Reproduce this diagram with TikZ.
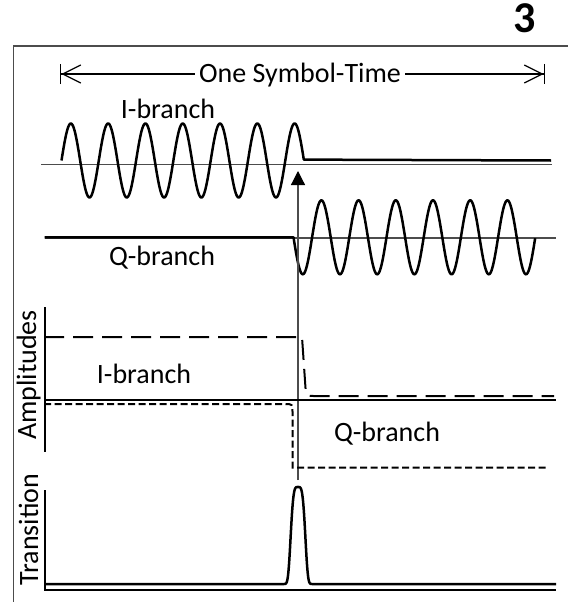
\documentclass[tikz,border=0pt]{standalone}
\usepackage{fontspec}
\setmainfont{Carlito}
\usetikzlibrary{arrows.meta}
\tikzset{
	wave/.style={line width=2.5pt, line join=round},
	thinline/.style={black!70, line width=1.2pt},
	axline/.style={line width=2pt},
	idash/.style={line width=2pt, dash pattern=on 20pt off 9pt},
	qdash/.style={line width=2pt, dash pattern=on 7pt off 3.5pt},
	lbl/.style={font=\fontsize{28}{32}\selectfont, inner sep=0pt, anchor=base},
}

\begin{document}
\begin{tikzpicture}[x=1pt, y=-1pt]
	\useasboundingbox (0,0) rectangle (568,602);

	\draw[thinline] (13.5,602) -- (13.5,46) -- (568,46);
	\node[font=\fontsize{44}{48}\selectfont\bfseries, anchor=base, inner sep=0pt] (num) at (525,33) {3};

	\coordinate (symL) at (60,74);
	\coordinate (symR) at (545,74);
	\draw[line width=1.3pt, {Bar[width=20pt]Straight Barb[length=18pt,width=18pt]}-{Straight Barb[length=18pt,width=18pt]Bar[width=20pt]}] (symL) -- (symR);
	\node[lbl, fill=white, inner xsep=4pt] (sym) at (300,82.5) {One Symbol-Time};

	\draw[thinline] (41,164.3) -- (552,164.3);
	\draw[wave] plot[domain=0:6.5, samples=400] ({61.5+37.3*\x}, {160.5-37*sin(360*\x)}) -- (551,160.5);
	\node[lbl] (itop) at (168,118) {I-branch};

	\draw[thinline] (44.5,238) -- (556,238);
	\draw[wave] (44.5,237.3) -- (293.5,237.3) -- plot[domain=0:6.5, samples=400] ({293.5+37.2*\x}, {237.3+37*sin(360*\x)});
	\node[lbl] (qtop) at (162,265) {Q-branch};

	\coordinate (mkB) at (298,480);
	\coordinate (mkT) at (298,171);
	\draw[thinline, -{Triangle[length=14pt,width=14pt,color=black]}] (mkB) -- (mkT);

	\draw[axline] (44.5,307) -- (44.5,452);
	\draw[axline] (44.5,400) -- (556,400);
	\draw[idash] (44,337) -- (302,337) -- (305.5,388) .. controls (306.5,396) .. (314,396) -- (554,396);
	\draw[qdash] (44,404) -- (284.5,404) .. controls (292.5,404) .. (292.5,412) -- (292.5,467.5) -- (549,467.5);
	\node[lbl, rotate=90] (amp) at (36,375) {Amplitudes};
	\node[lbl] (iamp) at (144,383) {I-branch};
	\node[lbl] (qamp) at (387,441) {Q-branch};

	\draw[axline] (44.5,490) -- (44.5,590) -- (556,590);
	\draw[wave] (46,584) -- (280,584) -- plot[domain=-18:18, samples=200] ({298+\x}, {584-97*exp(-(\x*\x/64)^2)}) -- (556,584);
	\node[lbl, rotate=90] (trans) at (38,529.5) {Transition};
\end{tikzpicture}
\end{document}
